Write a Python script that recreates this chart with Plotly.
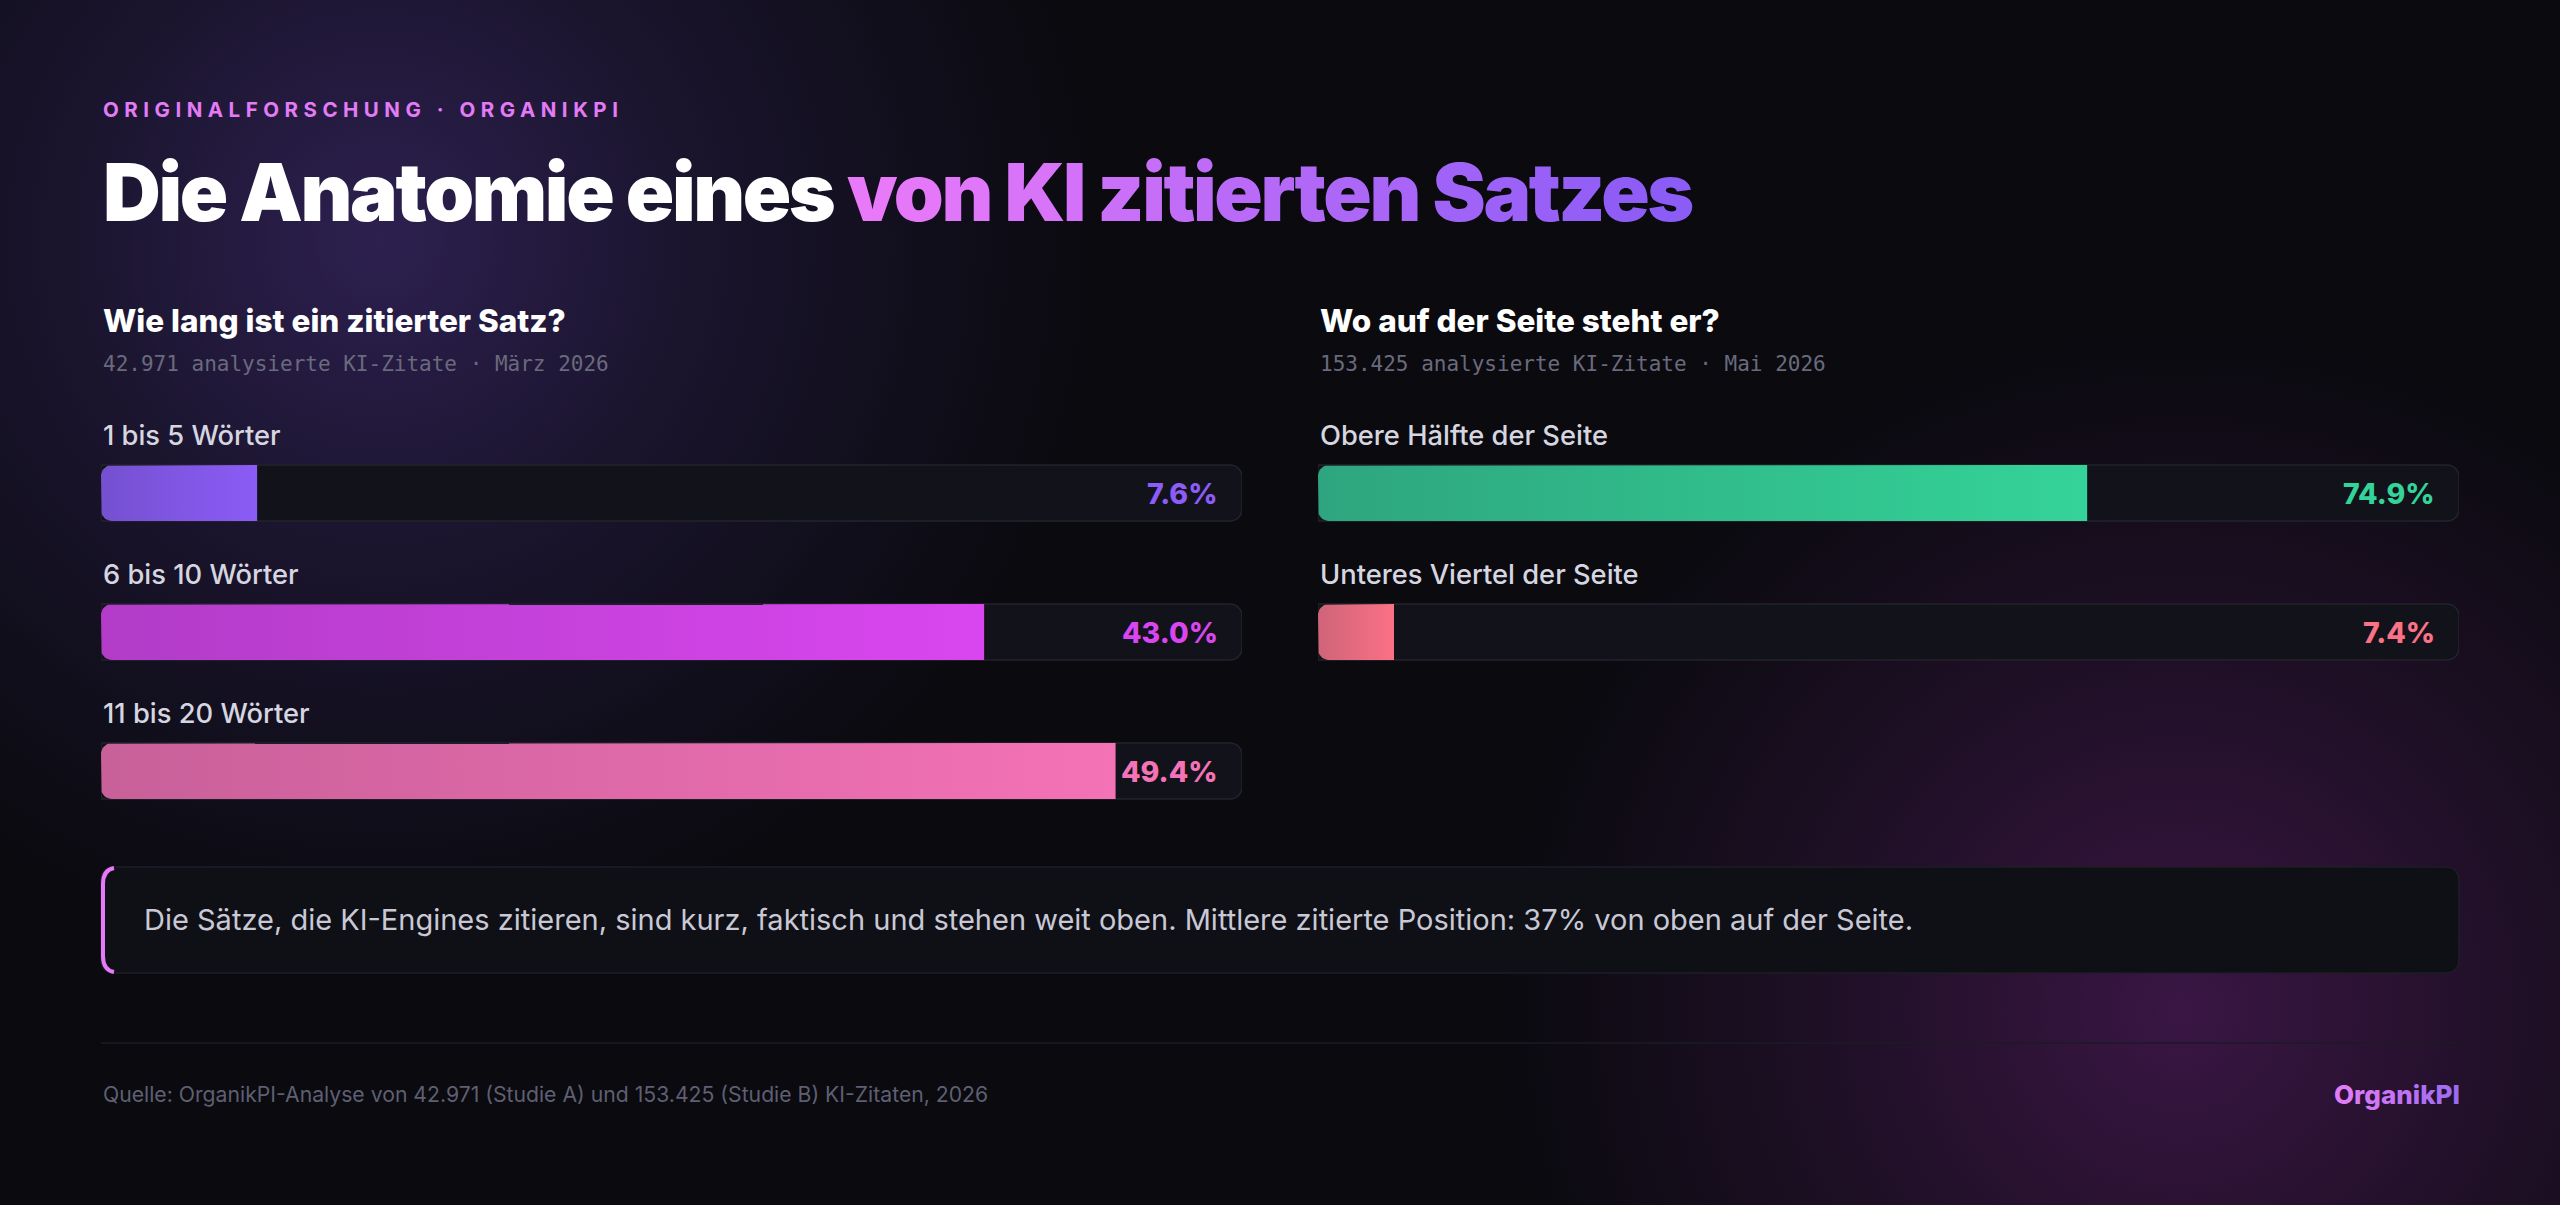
import base64
import numpy as np
import plotly.graph_objects as go

W, H = 2560, 1205

# ---------------- data ----------------
kicker = "ORIGINALFORSCHUNG · ORGANIKPI"
title_plain = "Die Anatomie eines "
title_accent = "von KI zitierten Satzes"

left_heading = "Wie lang ist ein zitierter Satz?"
left_sub = "42.971 analysierte KI-Zitate · März 2026"
left_cats = ["1 bis 5 Wörter", "6 bis 10 Wörter", "11 bis 20 Wörter"]
left_vals = [7.6, 43.0, 49.4]
left_c0 = ["#7550d0", "#b23cc8", "#c8609a"]
left_c1 = ["#8b5cf6", "#d946ef", "#f472b6"]

right_heading = "Wo auf der Seite steht er?"
right_sub = "153.425 analysierte KI-Zitate · Mai 2026"
right_cats = ["Obere Hälfte der Seite", "Unteres Viertel der Seite"]
right_vals = [74.9, 7.4]
right_c0 = ["#2ea57e", "#cf6479"]
right_c1 = ["#34d399", "#fb7185"]

callout = ("Die Sätze, die KI-Engines zitieren, sind kurz, faktisch und stehen weit oben. "
           "Mittlere zitierte Position: 37% von oben auf der Seite.")
source = "Quelle: OrganikPI-Analyse von 42.971 (Studie A) und 153.425 (Studie B) KI-Zitaten, 2026"
brand = "OrganikPI"

LEFT_MAX = 100 / 1.8
RIGHT_MAX = 100 / 0.9

# ---------------- layout helpers ----------------
def px(x):
    return x / W

def py(y):
    return 1 - y / H

L_X0, L_X1 = 101, 1242
R_X0, R_X1 = 1318, 2459
ROW0 = 493.0
ROW_STEP = 139.0
BAR_PX = 56.0
DOM_TOP, DOM_BOT = 420.0, 830.0
Y_TOP = (DOM_TOP - ROW0) / ROW_STEP
Y_BOT = (DOM_BOT - ROW0) / ROW_STEP
BAR_H = BAR_PX / ROW_STEP


def hexrgb(h):
    h = h.lstrip("#")
    return tuple(int(h[i:i + 2], 16) for i in (0, 2, 4))


def lerp(c0, c1, t):
    a, b = hexrgb(c0), hexrgb(c1)
    return "#%02x%02x%02x" % tuple(int(round(a[i] + (b[i] - a[i]) * t)) for i in range(3))


def rounded_left(value, yc, px_per_x, r_px=11, n=10):
    rx = min(r_px / px_per_x, value / 2)
    ry = r_px / ROW_STEP
    top, bot = yc - BAR_H / 2, yc + BAR_H / 2
    xs, ys = [value, rx], [top, top]
    for t in np.linspace(np.pi / 2, np.pi, n)[1:]:
        xs.append(rx + rx * np.cos(t)); ys.append(top + ry - ry * np.sin(t))
    for t in np.linspace(np.pi, 1.5 * np.pi, n):
        xs.append(rx + rx * np.cos(t)); ys.append(bot - ry - ry * np.sin(t))
    xs.append(value); ys.append(bot)
    xs.append(value); ys.append(top)
    return xs, ys


fig = go.Figure()
annotations = []

panels = [
    dict(cats=left_cats, vals=left_vals, c0=left_c0, c1=left_c1, xmax=LEFT_MAX,
         x0=L_X0, x1=L_X1, xa="x", ya="y", heading=left_heading, sub=left_sub),
    dict(cats=right_cats, vals=right_vals, c0=right_c0, c1=right_c1, xmax=RIGHT_MAX,
         x0=R_X0, x1=R_X1, xa="x2", ya="y2", heading=right_heading, sub=right_sub),
]

for p in panels:
    rows = list(range(len(p["cats"])))
    px_per_x = (p["x1"] - p["x0"]) / p["xmax"]
    # track
    fig.add_trace(go.Bar(
        x=[p["xmax"]] * len(rows), y=rows, orientation="h", width=BAR_H,
        marker=dict(color="#12121a", line=dict(color="#23232d", width=1.5), cornerradius=12),
        xaxis=p["xa"], yaxis=p["ya"], hoverinfo="skip", showlegend=False))
    # fills
    for i, (v, a, b) in enumerate(zip(p["vals"], p["c0"], p["c1"])):
        xs, ys = rounded_left(v, i, px_per_x)
        fig.add_trace(go.Scatter(
            x=xs, y=ys, mode="lines", line=dict(width=0), fill="toself",
            fillgradient=dict(type="horizontal", colorscale=[[0, a], [1, b]]),
            xaxis=p["xa"], yaxis=p["ya"], hoverinfo="skip", showlegend=False))
        annotations.append(dict(
            x=0, y=i, xref=p["xa"], yref=p["ya"], xanchor="left", yanchor="middle",
            yshift=58, text=p["cats"][i], showarrow=False,
            font=dict(family="Inter", size=27.3, color="#d6d6e0", weight=500)))
        annotations.append(dict(
            x=p["xmax"], y=i, xref=p["xa"], yref=p["ya"], xanchor="right", yanchor="middle",
            xshift=-22, text=f"{v:.1f}%", showarrow=False,
            font=dict(family="Inter", size=28.5, color=b, weight=800)))
    annotations.append(dict(
        x=px(p["x0"]), y=py(321), xref="paper", yref="paper", xanchor="left", yanchor="middle",
        text=p["heading"], showarrow=False,
        font=dict(family="Inter", size=31.5, color="#ffffff", weight=800)))
    annotations.append(dict(
        x=px(p["x0"]), y=py(364), xref="paper", yref="paper", xanchor="left", yanchor="middle",
        text=p["sub"], showarrow=False,
        font=dict(family="DejaVu Sans Mono", size=21, color="#6a6a7e")))

# kicker
annotations.append(dict(
    x=px(101), y=py(109), xref="paper", yref="paper", xanchor="left", yanchor="middle",
    text=f'<span style="letter-spacing:5.5px">{kicker}</span>', showarrow=False,
    font=dict(family="Inter", size=20.5, color="#e37bf6", weight=700)))

# title with gradient accent
spans = [f'<span style="color:#ffffff">{title_plain}</span>']
n = len(title_accent)
for k, ch in enumerate(title_accent):
    col = lerp("#e879f9", "#8b5cf6", k / (n - 1))
    spans.append(f'<span style="color:{col}">{ch}</span>')
annotations.append(dict(
    x=px(101), y=py(191), xref="paper", yref="paper", xanchor="left", yanchor="middle",
    text=f'<span style="letter-spacing:-2.4px">{"".join(spans)}</span>', showarrow=False,
    font=dict(family="Inter", size=80, color="#ffffff", weight=900)))

# callout text
annotations.append(dict(
    x=px(142), y=py(920), xref="paper", yref="paper", xanchor="left", yanchor="middle",
    text=callout, showarrow=False,
    font=dict(family="Inter", size=29, color="#c9c9d6")))

# footer
annotations.append(dict(
    x=px(101), y=py(1094), xref="paper", yref="paper", xanchor="left", yanchor="middle",
    text=source, showarrow=False,
    font=dict(family="Inter", size=21.2, color="#5f5f73")))
bspans = []
for k, ch in enumerate(brand):
    col = lerp("#e07cf6", "#9a6cf0", k / (len(brand) - 1))
    bspans.append(f'<span style="color:{col}">{ch}</span>')
annotations.append(dict(
    x=px(2462), y=py(1094), xref="paper", yref="paper", xanchor="right", yanchor="middle",
    text="".join(bspans), showarrow=False,
    font=dict(family="Inter", size=26, color="#c77cf6", weight=800)))

# ---------------- shapes ----------------
def rrect_path(x0, y0, x1, y1, r):
    return (f"M {px(x0 + r)} {py(y0)} L {px(x1 - r)} {py(y0)} Q {px(x1)} {py(y0)} {px(x1)} {py(y0 + r)} "
            f"L {px(x1)} {py(y1 - r)} Q {px(x1)} {py(y1)} {px(x1 - r)} {py(y1)} "
            f"L {px(x0 + r)} {py(y1)} Q {px(x0)} {py(y1)} {px(x0)} {py(y1 - r)} "
            f"L {px(x0)} {py(y0 + r)} Q {px(x0)} {py(y0)} {px(x0 + r)} {py(y0)} Z")

shapes = [
    dict(type="path", xref="paper", yref="paper", path=rrect_path(101, 867, 2459, 973, 14),
         fillcolor="#0f0f16", line=dict(color="#1e1e28", width=1.5), layer="below"),
    dict(type="path", xref="paper", yref="paper",
         path=(f"M {px(114)} {py(868)} Q {px(103)} {py(870)} {px(103)} {py(884)} "
               f"L {px(103)} {py(956)} Q {px(103)} {py(970)} {px(114)} {py(972)}"),
         line=dict(color="#e879f9", width=4), layer="above"),
    dict(type="line", xref="paper", yref="paper", x0=px(101), x1=px(2459), y0=py(1043), y1=py(1043),
         line=dict(color="#1b1b24", width=1.5)),
]

# ---------------- background glow ----------------
svg = f'''<svg xmlns="http://www.w3.org/2000/svg" width="{W}" height="{H}" viewBox="0 0 {W} {H}">
<defs>
<radialGradient id="g1" cx="380" cy="240" r="720" gradientUnits="userSpaceOnUse">
<stop offset="0" stop-color="#2d2050" stop-opacity="1"/>
<stop offset="0.45" stop-color="#2d2050" stop-opacity="0.45"/>
<stop offset="1" stop-color="#2d2050" stop-opacity="0"/>
</radialGradient>
<radialGradient id="g2" cx="2180" cy="1010" r="680" gradientUnits="userSpaceOnUse">
<stop offset="0" stop-color="#3a1644" stop-opacity="1"/>
<stop offset="0.45" stop-color="#3a1644" stop-opacity="0.5"/>
<stop offset="1" stop-color="#3a1644" stop-opacity="0"/>
</radialGradient>
</defs>
<rect width="{W}" height="{H}" fill="#0a0a0f"/>
<rect width="{W}" height="{H}" fill="url(#g1)"/>
<rect width="{W}" height="{H}" fill="url(#g2)"/>
</svg>'''
bg_src = "data:image/svg+xml;base64," + base64.b64encode(svg.encode()).decode()

axis_common = dict(showgrid=False, zeroline=False, showticklabels=False, showline=False,
                   fixedrange=True, ticks="")

fig.update_layout(
    width=W, height=H, margin=dict(l=0, r=0, t=0, b=0),
    paper_bgcolor="#0a0a0f", plot_bgcolor="rgba(0,0,0,0)",
    showlegend=False, barmode="overlay",
    xaxis=dict(domain=[px(L_X0), px(L_X1)], range=[0, LEFT_MAX], **axis_common),
    yaxis=dict(domain=[py(DOM_BOT), py(DOM_TOP)], range=[Y_BOT, Y_TOP], **axis_common),
    xaxis2=dict(domain=[px(R_X0), px(R_X1)], range=[0, RIGHT_MAX], anchor="y2", **axis_common),
    yaxis2=dict(domain=[py(DOM_BOT), py(DOM_TOP)], range=[Y_BOT, Y_TOP], anchor="x2", **axis_common),
    annotations=annotations, shapes=shapes,
    images=[dict(source=bg_src, xref="paper", yref="paper", x=0, y=1, sizex=1, sizey=1,
                 xanchor="left", yanchor="top", sizing="stretch", layer="below")],
)

fig.write_html("out.html", config={"displayModeBar": False})
